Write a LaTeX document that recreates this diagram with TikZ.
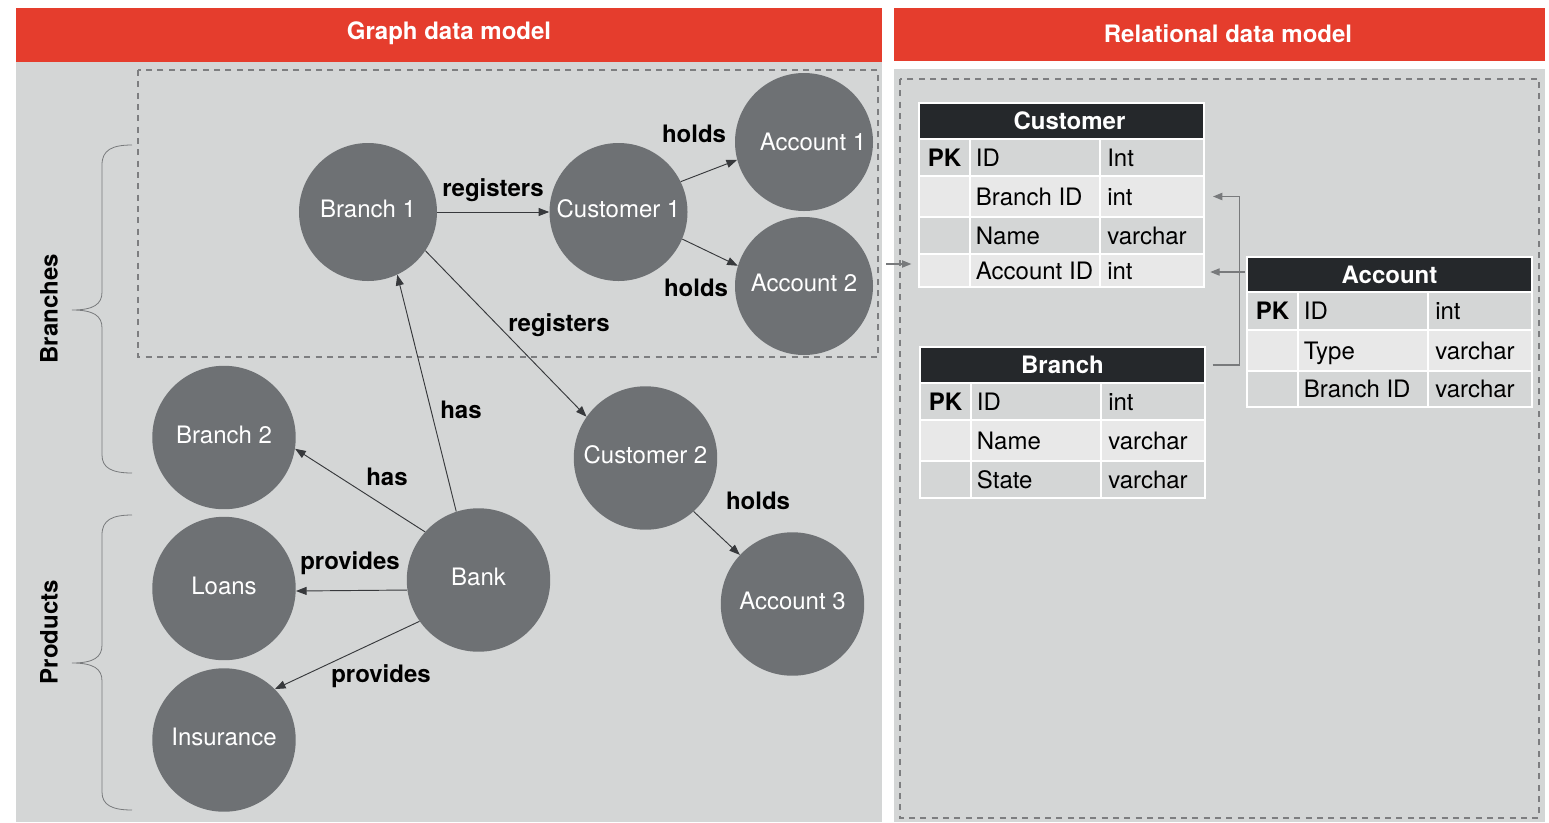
\documentclass[tikz,border=0pt]{standalone}
\usepackage{fontspec}
\setmainfont{TeX Gyre Heros}
\usetikzlibrary{arrows.meta,fit}
\definecolor{hdrred}{RGB}{229,61,45}
\definecolor{panel}{RGB}{212,214,214}
\definecolor{nodegray}{RGB}{110,113,116}
\definecolor{dashgray}{RGB}{125,126,128}
\definecolor{tdark}{RGB}{37,40,43}
\definecolor{tlight}{RGB}{232,232,232}
\definecolor{edgecol}{RGB}{55,57,60}
\definecolor{tarrowcol}{RGB}{120,122,124}
\definecolor{bracecol}{RGB}{120,122,124}
\newcommand\trow[7]{%
 \node[cellbox, fill=#4, fit={(\ca,#2) (\cb,#3)}] (#1-pk) {};
 \node[cellbox, fill=#4, fit={(\cb,#2) (\cc,#3)}] (#1-f) {};
 \node[cellbox, fill=#4, fit={(\cc,#2) (\cd,#3)}] (#1-t) {};
 \node[pktext] at (#1-pk.center) {#5};
 \node[ttext] at ([xshift=5pt]#1-f.west) {#6};
 \node[ttext] at ([xshift=6pt]#1-t.west) {#7};
}
\newcommand\thead[5]{%
 \node[cellbox, fill=tdark, fit={(\ca,#2) (\cd,#3)}] (#1) {};
 \node[thtext] at ([xshift=#5]#1.center) {#4};
}
\begin{document}
\begin{tikzpicture}[x=0.75pt,y=-0.75pt,
 font=\fontsize{18}{21}\selectfont,
 circ/.style={circle, fill=nodegray, text=white, minimum size=103.5pt, inner sep=0pt, text height=12.9pt, text depth=4.5pt},
 bigcirc/.style={circ, minimum size=107.6pt},
 ctext/.style={text=white, inner sep=0pt, text height=12.9pt, text depth=0pt},
 edge/.style={draw=edgecol, line width=0.7pt, -{Triangle[length=8pt,width=6pt]}},
 lbl/.style={font=\fontsize{18}{21}\selectfont\bfseries, inner sep=0pt, text height=12.9pt, text depth=0pt},
 hdrtext/.style={font=\fontsize{18}{21}\selectfont\bfseries, text=white, inner sep=0pt, text height=12.9pt, text depth=0pt},
 dashbox/.style={draw=dashgray, line width=1.1pt, dash pattern=on 4.5pt off 4pt},
 cellbox/.style={draw=white, line width=1.5pt, inner sep=0pt},
 ttext/.style={anchor=west, inner sep=0pt, text height=12.9pt, text depth=0pt},
 pktext/.style={font=\fontsize{18}{21}\selectfont\bfseries, inner sep=0pt, text height=12.9pt, text depth=0pt},
 thtext/.style={font=\fontsize{18}{21}\selectfont\bfseries, text=white, inner sep=0pt, text height=12.9pt, text depth=0pt},
 tarrow/.style={draw=tarrowcol, line width=0.8pt, -{Triangle[length=7pt,width=5.5pt]}},
 brace/.style={draw=bracecol, line width=0.6pt}
]
\useasboundingbox (0,0) rectangle (1549,822);
\fill[white] (0,0) rectangle (1549,822);

% panels and headers
\fill[panel] (16,62) rectangle (882,822);
\fill[panel] (894,69) rectangle (1545,822);
\fill[hdrred] (16,8) rectangle (882,62);
\fill[hdrred] (894,8) rectangle (1545,61);
\node[hdrtext] (ghdr) at (449,31) {Graph data model};
\node[hdrtext] (rhdr) at (1228,34) {Relational data model};

% dashed boxes
\draw[dashbox] (138,70) rectangle (878,357);
\draw[dashbox] (900,79) rectangle (1539,818);

% braces
\draw[brace] (132,145) .. controls (112,145) and (102,150) .. (102,165) -- (102,292)
  .. controls (102,304) and (94,310) .. (72,310)
  .. controls (94,310) and (102,316) .. (102,328) -- (102,455)
  .. controls (102,468) and (112,473) .. (132,473);
\draw[brace] (132,515) .. controls (112,515) and (102,520) .. (102,535) -- (102,645)
  .. controls (102,657) and (94,663) .. (72,663)
  .. controls (94,663) and (102,669) .. (102,681) -- (102,792)
  .. controls (102,805) and (112,810) .. (132,810);
\node[lbl, rotate=90] (brl) at (49,309) {Branches};
\node[lbl, rotate=90] (prl) at (49,632) {Products};

% graph nodes
\node[circ] (b1) at (368,212) {Branch 1};
\node[circ] (c1) at (618.5,212) {Customer 1};
\node[circ] (a1) at (804,142) {};
\node[ctext] at (813,142) {Account 1};
\node[circ] (a2) at (804,286) {Account 2};
\node[bigcirc] (b2) at (224,437.5) {Branch 2};
\node[bigcirc] (c2) at (645.5,458) {Customer 2};
\node[bigcirc] (loans) at (224,588.5) {Loans};
\node[bigcirc] (bank) at (478.5,580) {Bank};
\node[bigcirc] (ins) at (224,740) {Insurance};
\node[bigcirc] (a3) at (792.5,604) {Account 3};

% graph edges
\draw[edge] (b1.east) -- (c1.west);
\draw[edge] (c1.26) -- (a1.195);
\draw[edge] (c1.-23) -- (a2.163);
\draw[edge] (b1.-34) -- (c2.145);
\draw[edge] (bank.108) -- (b1.-65);
\draw[edge] (bank.138) -- (b2.-9);
\draw[edge] (bank.188) -- (loans.-2);
\draw[edge] (bank.215) -- (ins.45);
\draw[edge] (c2.-48) -- (a3.137);

% edge labels
\node[lbl] (l1) at (493,188) {registers};
\node[lbl] (l2) at (694,134) {holds};
\node[lbl] (l3) at (696,288) {holds};
\node[lbl] (l4) at (559,323) {registers};
\node[lbl] (l5) at (461,410) {has};
\node[lbl] (l6) at (387,477) {has};
\node[lbl] (l7) at (350,561) {provides};
\node[lbl] (l8) at (381,674) {provides};
\node[lbl] (l9) at (758,501) {holds};

% Customer table
\def\ca{919}\def\cb{970}\def\cc{1100}\def\cd{1204}
\thead{cust}{103}{139}{Customer}{6pt}
\trow{cu1}{139}{176}{panel}{PK}{ID}{Int}
\trow{cu2}{176}{217}{tlight}{}{Branch ID}{int}
\trow{cu3}{217}{254}{panel}{}{Name}{varchar}
\trow{cu4}{254}{287}{tlight}{}{Account ID}{int}

% Branch table
\def\ca{920}\def\cb{971}\def\cc{1101}\def\cd{1205}
\thead{bran}{347}{383}{Branch}{0pt}
\trow{br1}{383}{420}{panel}{PK}{ID}{int}
\trow{br2}{420}{461}{tlight}{}{Name}{varchar}
\trow{br3}{461}{498}{panel}{}{State}{varchar}

% Account table
\def\ca{1247}\def\cb{1298}\def\cc{1428}\def\cd{1532}
\thead{acct}{257}{292}{Account}{0pt}
\trow{ac1}{292}{330}{panel}{PK}{ID}{int}
\trow{ac2}{330}{371}{tlight}{}{Type}{varchar}
\trow{ac3}{371}{407}{panel}{}{Branch ID}{varchar}

% relational arrows
\coordinate (gsrc) at (886,264);
\draw[tarrow] (gsrc) -- ([xshift=-5pt]gsrc -| cu4-pk.west);
\draw[tarrow] ([xshift=5pt]bran.east) -- ++(20pt,0) |- ([xshift=6pt]cu2-t.east);
\draw[tarrow] ([xshift=-1pt]acct.west |- 0,272) -- ([xshift=4pt]cu4-t.east |- 0,272);
\end{tikzpicture}
\end{document}
